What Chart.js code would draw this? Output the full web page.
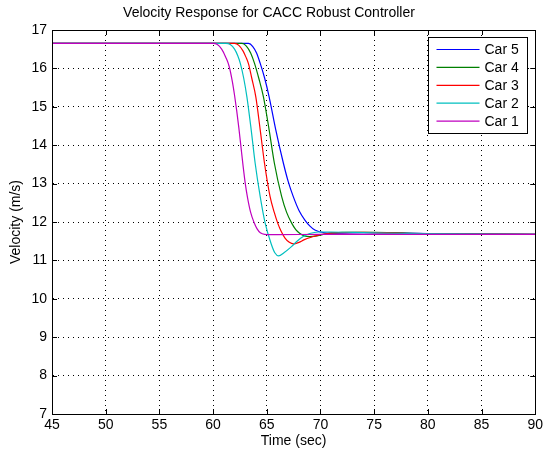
<!DOCTYPE html>
<html>
<head>
<meta charset="utf-8">
<script src="https://cdn.jsdelivr.net/npm/chart.js@4.4.1/dist/chart.umd.min.js"></script>
<style>
  html, body { margin: 0; padding: 0; background: #fff; }
  #wrap { width: 546px; height: 453px; }
</style>
</head>
<body>
<div id="wrap"><canvas id="velChart"></canvas></div>
<script>
// Tiempos (s) y velocidades (m/s)
var car1Time = [45, 60, 60.4, 60.8, 61.2, 61.5, 61.8, 62.0, 62.2, 62.4, 62.6, 62.8, 63.0, 63.2, 63.5, 63.8, 64.1, 64.4, 64.8, 66, 70, 90];
var car1Vel  = [16.65, 16.65, 16.62, 16.5, 16.28, 16.05, 15.65, 15.3, 14.9, 14.45, 13.95, 13.45, 13.0, 12.65, 12.25, 12.0, 11.82, 11.72, 11.68, 11.67, 11.68, 11.68];

var car2Time = [45, 61.2, 61.6, 62.0, 62.3, 62.55, 62.85, 63.15, 63.55, 63.92, 64.39, 64.85, 65.4, 65.75, 66.1, 66.6, 67.3, 67.9, 68.4, 69.0, 69.8, 71, 73, 78, 90];
var car2Vel  = [16.65, 16.65, 16.62, 16.5, 16.33, 16.12, 15.75, 15.26, 14.4, 13.53, 12.66, 11.97, 11.44, 11.2, 11.12, 11.2, 11.36, 11.52, 11.62, 11.7, 11.74, 11.74, 11.73, 11.7, 11.68];

var car3Time = [45, 62.0, 62.4, 62.8, 63.05, 63.3, 63.6, 63.98, 64.39, 64.79, 65.31, 65.7, 66.02, 66.35, 66.7, 67.1, 67.5, 68.0, 68.5, 69.2, 69.8, 70.7, 71.6, 74, 78, 90];
var car3Vel  = [16.65, 16.65, 16.6, 16.45, 16.3, 16.12, 15.75, 15.26, 14.4, 13.53, 12.66, 12.25, 11.97, 11.75, 11.58, 11.47, 11.43, 11.47, 11.54, 11.61, 11.66, 11.7, 11.72, 11.73, 11.7, 11.68];

var car4Time = [45, 62.7, 63.1, 63.5, 63.86, 64.25, 64.69, 65.22, 65.71, 66.39, 66.85, 67.32, 67.7, 68.09, 68.5, 69.0, 69.7, 70.5, 72, 75, 80, 90];
var car4Vel  = [16.65, 16.65, 16.58, 16.4, 16.13, 15.75, 15.26, 14.4, 13.53, 12.66, 12.25, 11.97, 11.8, 11.7, 11.64, 11.62, 11.64, 11.69, 11.73, 11.73, 11.7, 11.68];

var car5Time = [45, 63.3, 63.7, 64.05, 64.39, 64.8, 65.22, 65.84, 66.55, 67.0, 67.47, 68.0, 68.55, 69.0, 69.48, 70.4, 71.5, 74, 80, 90];
var car5Vel  = [16.65, 16.65, 16.57, 16.4, 16.13, 15.75, 15.26, 14.4, 13.53, 13.05, 12.66, 12.3, 12.05, 11.9, 11.79, 11.72, 11.71, 11.72, 11.7, 11.68];

var carNames  = ['Car 5', 'Car 4', 'Car 3', 'Car 2', 'Car 1'];
var carColors = ['#0000ff', '#008000', '#ff0000', '#00bfbf', '#bf00bf'];
var carTimes  = [car5Time, car4Time, car3Time, car2Time, car1Time];
var carVels   = [car5Vel, car4Vel, car3Vel, car2Vel, car1Vel];

var xTicks = [45, 50, 55, 60, 65, 70, 75, 80, 85, 90];
var yTicks = [7, 8, 9, 10, 11, 12, 13, 14, 15, 16, 17];

var FONT = '"Liberation Sans", Arial, Helvetica, sans-serif';

// Armar los datasets
var datasets = carNames.map(function (name, i) {
    return {
        label: name,
        data: carTimes[i].map(function (t, j) { return { x: t, y: carVels[i][j] }; }),
        borderColor: carColors[i],
        borderWidth: 1.2,
        pointRadius: 0,
        fill: false,
        cubicInterpolationMode: 'monotone',
        order: 5 - i
    };
});

// Marco completo y marcas hacia adentro (estilo MATLAB)
var marcoPlugin = {
    id: 'marco',
    afterDatasetsDraw: function (chart) {
        var ctx = chart.ctx, a = chart.chartArea;
        var sx = chart.scales.x, sy = chart.scales.y;
        ctx.save();
        ctx.strokeStyle = '#000';
        ctx.lineWidth = 1;
        ctx.beginPath();
        xTicks.forEach(function (v) {
            var px = Math.round(sx.getPixelForValue(v)) + 0.5;
            ctx.moveTo(px, a.bottom); ctx.lineTo(px, a.bottom - 5);
            ctx.moveTo(px, a.top); ctx.lineTo(px, a.top + 5);
        });
        yTicks.forEach(function (v) {
            var py = Math.round(sy.getPixelForValue(v)) + 0.5;
            ctx.moveTo(a.left, py); ctx.lineTo(a.left + 5, py);
            ctx.moveTo(a.right, py); ctx.lineTo(a.right - 5, py);
        });
        ctx.stroke();
        ctx.strokeRect(Math.round(a.left) + 0.5, Math.round(a.top) + 0.5,
            Math.round(a.right - a.left), Math.round(a.bottom - a.top));
        ctx.restore();
    }
};

// Leyenda dentro del area de la grafica
var leyendaPlugin = {
    id: 'leyenda',
    afterDraw: function (chart) {
        var ctx = chart.ctx, a = chart.chartArea;
        var bx = Math.round(a.right - 107) + 0.5, by = Math.round(a.top + 7) + 0.5;
        var bw = 99, bh = 96;
        ctx.save();
        ctx.fillStyle = '#fff';
        ctx.fillRect(bx, by, bw, bh);
        ctx.strokeStyle = '#000';
        ctx.lineWidth = 1;
        ctx.strokeRect(bx, by, bw, bh);
        ctx.font = '14px ' + FONT;
        ctx.textBaseline = 'middle';
        ctx.fillStyle = '#000';
        carNames.forEach(function (name, i) {
            var ry = by + 12 + i * 17.9;
            ctx.strokeStyle = carColors[i];
            ctx.lineWidth = 1.2;
            ctx.beginPath();
            ctx.moveTo(bx + 8, ry); ctx.lineTo(bx + 51, ry);
            ctx.stroke();
            ctx.fillText(name, bx + 56, ry + 1);
        });
        ctx.restore();
    }
};

var ctx = document.getElementById('velChart').getContext('2d');
var velChart = new Chart(ctx, {
    type: 'line',
    data: { datasets: datasets },
    plugins: [marcoPlugin, leyendaPlugin],
    options: {
        responsive: true,
        maintainAspectRatio: false,
        animation: false,
        layout: { padding: { left: 0, right: 8, top: 0, bottom: 0 } },
        plugins: {
            legend: { display: false },
            tooltip: { enabled: false },
            title: {
                display: true,
                text: 'Velocity Response for CACC Robust Controller',
                color: '#000',
                font: { family: FONT, size: 14, weight: 'normal' },
                padding: { top: 5, bottom: 8.2 }
            }
        },
        scales: {
            x: {
                type: 'linear',
                min: 45, max: 90,
                afterFit: function (s) { s.height = 39; },
                afterBuildTicks: function (s) { s.ticks = xTicks.map(function (v) { return { value: v }; }); },
                ticks: { color: '#000', font: { family: FONT, size: 14 }, padding: 3, maxRotation: 0 },
                grid: { color: '#000', lineWidth: 1, drawTicks: false },
                border: { display: true, color: '#000', width: 1, dash: [1, 4] },
                title: {
                    display: true, text: 'Time (sec)', color: '#000',
                    font: { family: FONT, size: 14 }, padding: { top: 0, bottom: 3.6 }
                }
            },
            y: {
                type: 'linear',
                min: 7, max: 17,
                afterFit: function (s) { s.width = 52; },
                afterBuildTicks: function (s) { s.ticks = yTicks.map(function (v) { return { value: v }; }); },
                ticks: { color: '#000', font: { family: FONT, size: 14 }, padding: 5 },
                grid: { color: '#000', lineWidth: 1, drawTicks: false },
                border: { display: true, color: '#000', width: 1, dash: [1, 4] },
                title: {
                    display: true, text: 'Velocity (m/s)', color: '#000',
                    font: { family: FONT, size: 14 }, padding: { top: 7.6, bottom: 0 }
                }
            }
        }
    }
});
</script>
</body>
</html>
